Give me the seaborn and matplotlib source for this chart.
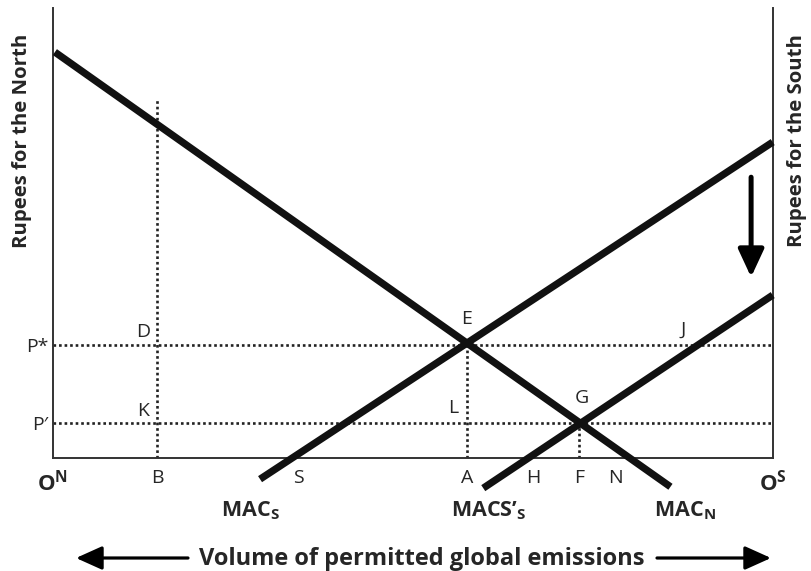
import matplotlib
matplotlib.use('Agg')
import matplotlib.pyplot as plt
from matplotlib.patches import FancyArrowPatch
import seaborn as sns
import pandas as pd

# curves in diagram units (x: 0 = O_N, 100 = O_S ; y: rupees 0..100)
mac_n_x = [0.3, 85.8]
mac_n_y = [90.2, -6.4]
mac_s_x = [28.8, 100.0]
mac_s_y = [-4.7, 70.2]
mac_s2_x = [59.8, 100.0]
mac_s2_y = [-6.7, 36.2]

# prices and quantities
p_star = 25.2
p_prime = 7.8
q_b = 14.5
q_a = 57.5
q_f = 73.1
b_top = 80.0
shift_arrow = [62.4, 40.2]
arrow_x = 97.0

x_tick_pos = [0, q_b, 34.1, q_a, 66.7, q_f, 78.1, 100]
x_tick_lab = [r'$\mathbf{O^N}$', 'B', 'S', 'A', 'H', 'F', 'N', r'$\mathbf{O^S}$']
y_tick_pos = [p_prime, p_star]
y_tick_lab = ['P\u2032', 'P*']

sns.set_theme(style='white')
plt.rcParams['font.family'] = ['Open Sans', 'DejaVu Sans']
plt.rcParams['mathtext.fontset'] = 'custom'
plt.rcParams['mathtext.rm'] = 'Open Sans:bold'
plt.rcParams['mathtext.it'] = 'Open Sans:bold'
plt.rcParams['mathtext.bf'] = 'Open Sans:bold'

fig = plt.figure(figsize=(8.12, 5.71), dpi=100)
ax = fig.add_axes([52.7 / 812, 113 / 571, 720 / 812, 450 / 571])
ax.set_xlim(0, 100)
ax.set_ylim(0, 100)

curves = pd.concat([
    pd.DataFrame({'x': mac_n_x, 'y': mac_n_y, 'curve': 'MAC_N'}),
    pd.DataFrame({'x': mac_s_x, 'y': mac_s_y, 'curve': 'MAC_S'}),
    pd.DataFrame({'x': mac_s2_x, 'y': mac_s2_y, 'curve': 'MACS2'}),
])
for name, grp in curves.groupby('curve'):
    sns.lineplot(data=grp, x='x', y='y', ax=ax, color='#111111', lw=5.2,
                 solid_capstyle='butt', clip_on=False, zorder=3, legend=False)

# dotted guides
dot = dict(color='#222222', lw=1.9, ls=(0, (1, 1.1)), zorder=2)
ax.plot([0, 100], [p_star, p_star], **dot)
ax.plot([0, 100], [p_prime, p_prime], **dot)
ax.plot([q_b, q_b], [0, b_top], **dot)
ax.plot([q_a, q_a], [0, p_star], **dot)
ax.plot([q_f, q_f], [0, p_prime], **dot)

# downward shift arrow
ax.annotate('', xy=(arrow_x, shift_arrow[1]), xytext=(arrow_x, shift_arrow[0]),
            arrowprops=dict(arrowstyle='-|>,head_length=1.4,head_width=0.65',
                            color='black', lw=3.6, shrinkA=0, shrinkB=0))

# point labels
fs = 14
ax.text(q_b - 2.0, p_star + 2.7, 'D', fontsize=fs, ha='center', va='center')
ax.text(q_b - 2.0, p_prime + 2.6, 'K', fontsize=fs, ha='center', va='center')
ax.text(q_a, p_star + 5.6, 'E', fontsize=fs, ha='center', va='center')
ax.text(q_a - 1.9, p_prime + 3.3, 'L', fontsize=fs, ha='center', va='center')
ax.text(q_f + 0.4, p_prime + 5.5, 'G', fontsize=fs, ha='center', va='center')
ax.text(87.5, p_star + 3.3, 'J', fontsize=fs, ha='center', va='center')

# curve names
ax.text(27.5, -11.6, r'MAC$_\mathregular{S}$', fontsize=15.5, fontweight='bold', ha='center', va='center')
ax.text(60.5, -11.6, 'MACS\u2019' + r'$_\mathregular{S}$', fontsize=15.5, fontweight='bold', ha='center', va='center')
ax.text(87.8, -11.6, r'MAC$_\mathregular{N}$', fontsize=15.5, fontweight='bold', ha='center', va='center')

# ticks
ax.set_xticks(x_tick_pos)
ax.set_xticklabels(x_tick_lab, fontsize=fs)
ax.set_yticks(y_tick_pos)
ax.set_yticklabels(y_tick_lab, fontsize=fs)
ax.tick_params(axis='both', length=0)
ax.tick_params(axis='x', pad=8)
ax.tick_params(axis='y', pad=3)
for lab in (ax.get_xticklabels()[0], ax.get_xticklabels()[-1]):
    lab.set_fontsize(16)

for side in ['left', 'right', 'bottom']:
    ax.spines[side].set_visible(True)
    ax.spines[side].set_color('#333333')
    ax.spines[side].set_linewidth(1.4)
ax.spines['top'].set_visible(False)
ax.grid(False)
ax.set_xlabel('')
ax.set_ylabel('')

fig.text(22 / 812, 1 - 141 / 571, 'Rupees for the North', rotation=90, fontsize=14.7,
         fontweight='bold', ha='center', va='center')
fig.text(797 / 812, 1 - 141 / 571, 'Rupees for the South', rotation=90, fontsize=14.7,
         fontweight='bold', ha='center', va='center')

fig.text(422 / 812, 1 - 559 / 571, 'Volume of permitted global emissions', fontsize=17,
         fontweight='bold', ha='center', va='center')
style = '-|>,head_length=1.0,head_width=0.45'
fig.add_artist(FancyArrowPatch((188, 13), (76, 13), transform=None, arrowstyle=style,
                               color='black', lw=2.3, mutation_scale=16, shrinkA=0, shrinkB=0))
fig.add_artist(FancyArrowPatch((657, 13), (771, 13), transform=None, arrowstyle=style,
                               color='black', lw=2.3, mutation_scale=16, shrinkA=0, shrinkB=0))

fig.savefig('out.png', dpi=100)
